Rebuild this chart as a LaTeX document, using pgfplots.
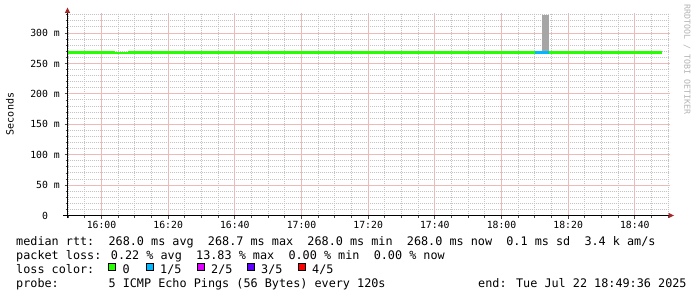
\documentclass[border=0pt]{standalone}
\usepackage{fontspec}
\usepackage{pgfplots}
\pgfplotsset{compat=1.18}
\newfontfamily\mono{DejaVu Sans Mono}
\newcommand\legfont{\mono\fontsize{11.8bp}{14bp}\selectfont}
\newcommand\axfont{\mono\fontsize{9.8bp}{12bp}\selectfont}
\newcommand\unitfont{\mono\fontsize{10bp}{12bp}\selectfont}
\newcommand\wmfont{\mono\fontsize{8.3bp}{10bp}\selectfont}
\definecolor{loss0}{HTML}{26FF00}
\definecolor{loss1}{HTML}{00B8FF}
\definecolor{loss2}{HTML}{DD00FF}
\definecolor{loss3}{HTML}{5E00FF}
\definecolor{loss4}{HTML}{FF0000}
\definecolor{smoke}{HTML}{A6A6A6}
\definecolor{arrowred}{RGB}{165,40,40}
\definecolor{majgrid}{HTML}{EDBABA}
\definecolor{mingrid}{HTML}{C4C4C4}
\definecolor{wm}{HTML}{B4B4B4}
\begin{document}
\begin{tikzpicture}[x=1bp,y=1bp]
\fill[white] (0,0) rectangle (697,297);
\path[use as bounding box] (0,0) rectangle (697,297);
\begin{axis}[
  at={(67.5bp,81.5bp)}, anchor=south west,
  scale only axis, width=602bp, height=202bp,
  xmin=-10.2, xmax=170.4, ymin=0, ymax=332.1,
  axis lines=left,
  axis line style={draw=none},
  xtick={0,20,40,60,80,100,120,140,160},
  xticklabels={16:00,16:20,16:40,17:00,17:20,17:40,18:00,18:20,18:40},
  minor xtick={-10,-5,5,10,15,25,30,35,45,50,55,65,70,75,85,90,95,105,110,115,125,130,135,145,150,155,165,170},
  ytick={0,50,100,150,200,250,300},
  yticklabels={0\hphantom{\ m},50 m,100 m,150 m,200 m,250 m,300 m},
  minor ytick={10,20,30,40,60,70,80,90,110,120,130,140,160,170,180,190,210,220,230,240,260,270,280,290,310,320,330},
  grid=both,
  major grid style={majgrid, line width=1bp, solid},
  minor grid style={mingrid, line width=1bp, dash pattern=on 1bp off 1bp},
  tick align=outside,
  major tick length=3bp, minor tick length=2bp,
  tick style={black!70, line width=0.8bp},
  ticklabel style={font=\axfont, inner sep=0pt},
  xticklabel style={anchor=north, yshift=-2.5bp},
  yticklabel style={anchor=east, xshift=-4.5bp},
  clip=true,
]
\addplot[draw=none, fill=smoke] coordinates {(132,268) (132,330) (134.1,330) (134.1,268)} -- cycle;
\addplot[loss0, line width=3bp] coordinates {(-10.2,268) (4,268)};
\addplot[loss0, line width=2bp] coordinates {(4,267.2) (8,267.2)};
\addplot[loss0, line width=3bp] coordinates {(8,268) (130,268)};
\addplot[loss1, line width=3bp] coordinates {(130,268) (134.1,268)};
\addplot[loss0, line width=3bp] coordinates {(134.1,268) (168,268)};
\end{axis}
% axis lines with arrows
\draw[black, line width=1bp] (63,81.5) -- (669,81.5);
\fill[arrowred] (668.5,78.8) -- (674,81.5) -- (668.5,84.2) -- cycle;
\draw[black, line width=1bp] (67.5,79) -- (67.5,284.5);
\fill[arrowred] (64.8,284) -- (67.5,289.5) -- (70.2,284) -- cycle;
% y label
\node[font=\unitfont, rotate=90, anchor=base, inner sep=0pt] at (13.5,183) {Seconds};
% watermark
\node[font=\wmfont, text=wm, rotate=-90, inner sep=0pt] at (687,237.5) {RRDTOOL / TOBI OETIKER};
% legend
\node[font=\legfont, anchor=base west, inner sep=0pt] at (16,52) {median rtt:~~268.0 ms avg~~268.7 ms max~~268.0 ms min~~268.0 ms now~~0.1 ms sd~~3.4 k am/s};
\node[font=\legfont, anchor=base west, inner sep=0pt] at (16,38) {packet loss: 0.22 \% avg~~13.83 \% max~~0.00 \% min~~0.00 \% now};
\node[font=\legfont, anchor=base west, inner sep=0pt] at (16,24) {loss color:};
\filldraw[fill=loss0, draw=black, line width=1bp] (108.5,26.5) rectangle (115.5,33.5);
\node[font=\legfont, anchor=base west, inner sep=0pt] at (122.5,24) {0};
\filldraw[fill=loss1, draw=black, line width=1bp] (146.5,26.5) rectangle (153.5,33.5);
\node[font=\legfont, anchor=base west, inner sep=0pt] at (160,24) {1/5};
\filldraw[fill=loss2, draw=black, line width=1bp] (197.5,26.5) rectangle (204.5,33.5);
\node[font=\legfont, anchor=base west, inner sep=0pt] at (211,24) {2/5};
\filldraw[fill=loss3, draw=black, line width=1bp] (247.5,26.5) rectangle (254.5,33.5);
\node[font=\legfont, anchor=base west, inner sep=0pt] at (261,24) {3/5};
\filldraw[fill=loss4, draw=black, line width=1bp] (298.5,26.5) rectangle (305.5,33.5);
\node[font=\legfont, anchor=base west, inner sep=0pt] at (312,24) {4/5};
\node[font=\legfont, anchor=base west, inner sep=0pt] at (16,10) {probe:~~~~~~~5 ICMP Echo Pings (56 Bytes) every 120s};
\node[font=\legfont, anchor=base west, inner sep=0pt] at (478,10) {end: Tue Jul 22 18:49:36 2025};
\end{tikzpicture}
\end{document}
